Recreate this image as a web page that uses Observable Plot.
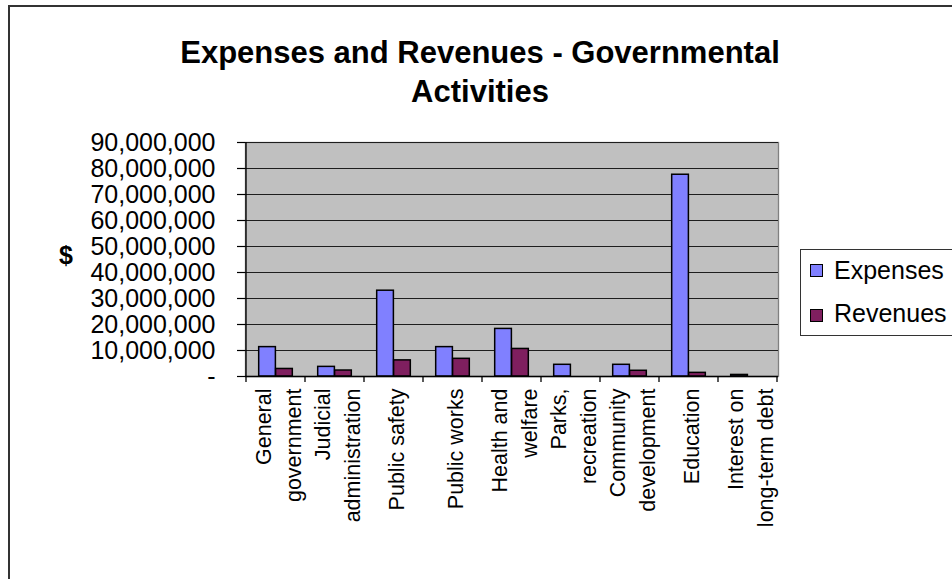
<!DOCTYPE html>
<html>
<head>
<meta charset="utf-8">
<script src="https://cdn.jsdelivr.net/npm/d3@7"></script>
<script src="https://cdn.jsdelivr.net/npm/@observablehq/plot@0.6"></script>
<style>
  html, body { margin: 0; padding: 0; background: #fff; overflow: hidden; }
  #wrap { position: relative; width: 952px; height: 579px; overflow: hidden; font-family: 'Liberation Sans', Arial, sans-serif; color: #000; }
  #border { position: absolute; left: 8px; top: 5px; width: 1000px; height: 700px; border: 2px solid #333; box-sizing: border-box; }
  #chart { position: absolute; left: 0; top: 0; }
  #title { position: absolute; left: 0; width: 960px; top: 33px; text-align: center; font-weight: bold; font-size: 31px; line-height: 39px; }
  #ylabel { position: absolute; left: 59px; top: 243px; font-weight: bold; font-size: 25px; line-height: 25px; }
  #legend { position: absolute; left: 800px; top: 249px; width: 200px; height: 85px; border: 1px solid #333; background: #fff; }
  .sw { position: absolute; left: 9px; width: 11px; height: 11px; border: 1.5px solid #000; }
  .lt { position: absolute; left: 33px; font-size: 25px; line-height: 25px; white-space: nowrap; }
</style>
</head>
<body>
<div id="wrap">
  <div id="border"></div>
  <div id="chart"></div>
  <div id="title">Expenses and Revenues - Governmental<br>Activities</div>
  <div id="ylabel">$</div>
  <div id="legend"></div>
</div>
<script>
// ---- data ----
const categories = [
  "General government", "Judicial administration", "Public safety", "Public works",
  "Health and welfare", "Parks, recreation", "Community development", "Education",
  "Interest on long-term debt"
];
const tickLabels = [
  "General\ngovernment", "Judicial\nadministration", "Public safety", "Public works",
  "Health and\nwelfare", "Parks,\nrecreation", "Community\ndevelopment", "Education",
  "Interest on\nlong-term debt"
];
const series = ["Expenses", "Revenues"];
const expenses = [11300000, 3700000, 33000000, 11300000, 18300000, 4500000, 4500000, 77600000, 600000];
const revenues = [2900000, 2300000, 6200000, 6800000, 10600000, 0, 2200000, 1400000, 0];
const yTicks = [0, 10000000, 20000000, 30000000, 40000000, 50000000, 60000000, 70000000, 80000000, 90000000];
const seriesColors = ["#8080ff", "#7f1f5f"];

// ---- layout ----
const W = 952, H = 579, ML = 245, MR = 174, MT = 142, MB = 203;
const bw = (W - ML - MR) / categories.length;
const inNear = bw * 0.75 / 3.5, inFar = bw * 1.75 / 3.5;

const rows = categories.flatMap((c, i) => [
  {category: c, series: "Expenses", value: expenses[i]},
  {category: c, series: "Revenues", value: revenues[i]}
]);

function categoryTicks(index, scales) {
  const x = scales.x, y = scales.y;
  const step = x(categories[1]) - x(categories[0]);
  const y0 = y(0);
  const g = d3.create("svg:g").attr("stroke", "#000").attr("stroke-width", 1.3);
  const xs = categories.map(c => x(c));
  xs.push(xs[xs.length - 1] + step);
  for (const xv of xs) g.append("line").attr("x1", xv).attr("x2", xv).attr("y1", y0).attr("y2", y0 + 6);
  g.append("line").attr("x1", xs[0]).attr("x2", xs[0]).attr("y1", y(yTicks[yTicks.length - 1])).attr("y2", y0);
  return g.node();
}

const chart = Plot.plot({
  width: W, height: H,
  marginLeft: ML, marginRight: MR, marginTop: MT, marginBottom: MB,
  style: {fontFamily: "'Liberation Sans', Arial, sans-serif", background: "transparent", color: "#000"},
  x: {domain: categories, padding: 0, axis: null},
  y: {domain: [0, yTicks[yTicks.length - 1]], axis: null},
  color: {domain: series, range: seriesColors},
  marks: [
    Plot.frame({fill: "#c0c0c0", stroke: "#808080", strokeWidth: 1.3}),
    Plot.gridY({ticks: yTicks, stroke: "#1e1e1e", strokeOpacity: 1, strokeWidth: 1.2}),
    Plot.barY(rows, {filter: d => d.series === "Expenses" && d.value > 0, x: "category", y: "value", fill: "series",
      stroke: "#000", strokeWidth: 1.5, insetLeft: inNear, insetRight: inFar}),
    Plot.barY(rows, {filter: d => d.series === "Revenues" && d.value > 0, x: "category", y: "value", fill: "series",
      stroke: "#000", strokeWidth: 1.5, insetLeft: inFar, insetRight: inNear}),
    Plot.ruleY([0], {stroke: "#000", strokeWidth: 1.3}),
    categoryTicks,
    Plot.axisY({ticks: yTicks, tickFormat: d => d === 0 ? "-" : d3.format(",")(d), tickSize: 8, tickPadding: 22,
      fontSize: 25, stroke: "#000", strokeWidth: 1.2, label: null}),
    Plot.text(categories, {x: d => d, text: (d, i) => tickLabels[i], frameAnchor: "bottom", dy: 12,
      rotate: -90, textAnchor: "end", lineAnchor: "middle", lineHeight: 1.4, fontSize: 21.5, fill: "#000"})
  ]
});
document.getElementById("chart").appendChild(chart);

// legend
const legend = document.getElementById("legend");
const swTops = [13.5, 58.5];
const txtTops = [8, 51];
series.forEach((s, i) => {
  const sw = document.createElement("div");
  sw.className = "sw";
  sw.style.top = swTops[i] + "px";
  sw.style.background = seriesColors[i];
  legend.appendChild(sw);
  const t = document.createElement("div");
  t.className = "lt";
  t.style.top = txtTops[i] + "px";
  t.textContent = s;
  legend.appendChild(t);
});
</script>
</body>
</html>
